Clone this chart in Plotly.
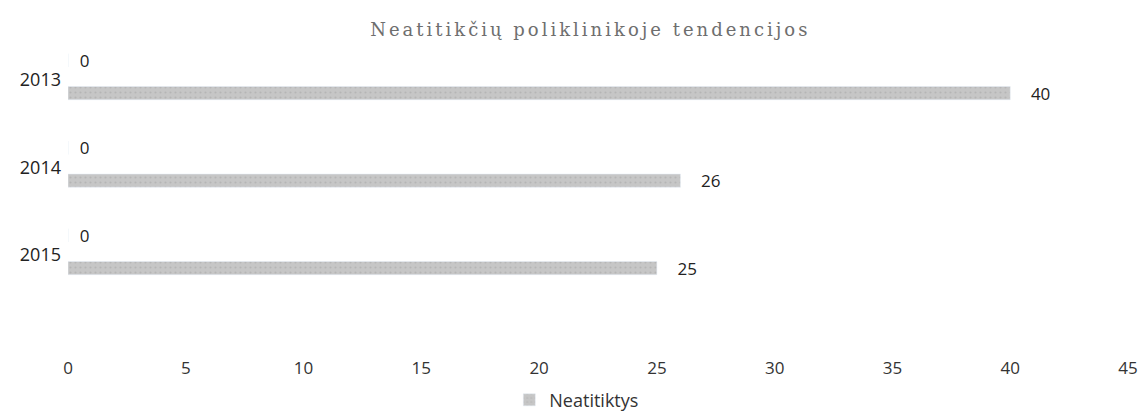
import plotly.graph_objects as go

years = ["2013", "2014", "2015"]
neatitiktys = [40, 26, 25]
zero_series = [0, 0, 0]
x_ticks = [0, 5, 10, 15, 20, 25, 30, 35, 40, 45]

font_family = "Open Sans, Liberation Sans, sans-serif"

fig = go.Figure()

fig.add_trace(go.Bar(
    y=years, x=zero_series, orientation="h",
    width=0.15, offset=-0.3,
    marker=dict(color="#c4c4c4"),
    text=["  " + str(v) for v in zero_series], textposition="outside",
    constraintext="none",
    textfont=dict(size=17, color="#222222", family=font_family),
    cliponaxis=False, showlegend=False, hoverinfo="skip",
))

fig.add_trace(go.Bar(
    y=years, x=neatitiktys, orientation="h",
    name="Neatitiktys",
    width=0.15, offset=0.075,
    marker=dict(color="#c6c6c6",
                pattern=dict(shape=".", fgcolor="#a4a4a4", size=5, solidity=0.15)),
    text=["    " + str(v) for v in neatitiktys], textposition="outside",
    constraintext="none",
    textfont=dict(size=17, color="#222222", family=font_family),
    cliponaxis=False,
))

fig.update_layout(
    width=1144, height=419,
    paper_bgcolor="white", plot_bgcolor="white",
    margin=dict(l=68, r=16, t=50, b=67),
    barmode="overlay",
    title=dict(text="<span style='letter-spacing:3px'>Neatitikčių poliklinikoje tendencijos</span>",
               x=0.516, xanchor="center", y=0.93, yanchor="middle",
               font=dict(family="DejaVu Serif, Liberation Serif, serif", size=18, color="#6e6e6e")),
    xaxis=dict(range=[0, 45], tickvals=x_ticks, showgrid=False, zeroline=False,
               showline=False, ticks="", automargin=False, ticklabelstandoff=4,
               tickfont=dict(size=17, color="#333333", family=font_family)),
    yaxis=dict(categoryorder="array", categoryarray=years,
               range=[3.109, -0.343], showgrid=False, zeroline=False, showline=False,
               ticks="", ticklabelstandoff=6, automargin=False,
               tickfont=dict(size=18, color="#222222", family=font_family)),
    legend=dict(orientation="h", x=0.48, xanchor="center",
                yref="container", y=0.045, yanchor="middle",
                font=dict(size=18, color="#333333", family=font_family)),
)

fig.write_html("out.html", config={"displayModeBar": False},
               post_script="document.body.style.margin='0';document.body.style.overflow='hidden';")
